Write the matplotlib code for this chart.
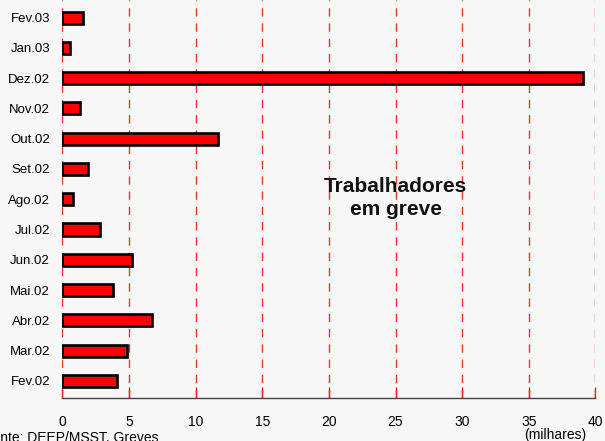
import matplotlib
matplotlib.use("Agg")
import matplotlib.pyplot as plt
import matplotlib.patheffects as pe

categories = ["Fev.02", "Mar.02", "Abr.02", "Mai.02", "Jun.02", "Jul.02", "Ago.02",
              "Set.02", "Out.02", "Nov.02", "Dez.02", "Jan.03", "Fev.03"]
values = [4.1, 4.85, 6.7, 3.8, 5.25, 2.8, 0.76, 1.9, 11.7, 1.3, 39.1, 0.55, 1.55]
xticks = [0, 5, 10, 15, 20, 25, 30, 35, 40]

plt.rcParams['font.family'] = ['Liberation Sans', 'DejaVu Sans']

bg = "#f7f7f7"
fig = plt.figure(figsize=(6.05, 4.41), dpi=100, facecolor=bg)
ax = fig.add_axes([0.1033, 0.0964, 0.8807, 0.9036], facecolor=bg)

ypos = list(range(len(categories)))
bars = ax.barh(ypos, values, height=0.4, color="#ff0000", edgecolor="black",
               linewidth=1.9, zorder=3)
for b in bars:
    b.set_path_effects([pe.SimplePatchShadow(offset=(1.2, -1.2), shadow_rgbFace="#999999", alpha=0.6),
                        pe.Normal()])

ax.set_xlim(0, 40)
ax.set_ylim(-0.58, len(categories) - 1 + 0.58)
ax.set_xticks(xticks)
ax.set_xticklabels([str(t) for t in xticks], fontsize=10)
ax.set_yticks(ypos)
ax.set_yticklabels(categories, fontsize=9.5)

for t in xticks:
    ax.axvline(t, color="#ee3333", linestyle=(0, (6, 5)), linewidth=1.0, zorder=1)

for s in ["top", "right", "left"]:
    ax.spines[s].set_visible(False)
ax.spines["bottom"].set_color("#444444")
ax.spines["bottom"].set_linewidth(1.0)
ax.spines["bottom"].set_zorder(4)

ax.tick_params(axis="x", direction="in", length=8, color="#ee2222", width=1.0, pad=12)
ax.tick_params(axis="y", length=0, pad=9)

ax.text(25.0, 6.05, "Trabalhadores\nem greve", ha="center", va="center",
        fontsize=15, fontweight="bold", linespacing=1.25, color="#111111")

fig.text(555 / 605, 1 - 427.5 / 441, "(milhares)", ha="center", va="top", fontsize=10)
fig.text(-16 / 605, 1 - 431 / 441, "Fonte: DEEP/MSST, Greves", ha="left", va="top", fontsize=10)

fig.savefig("out.png", dpi=100, facecolor=bg)
